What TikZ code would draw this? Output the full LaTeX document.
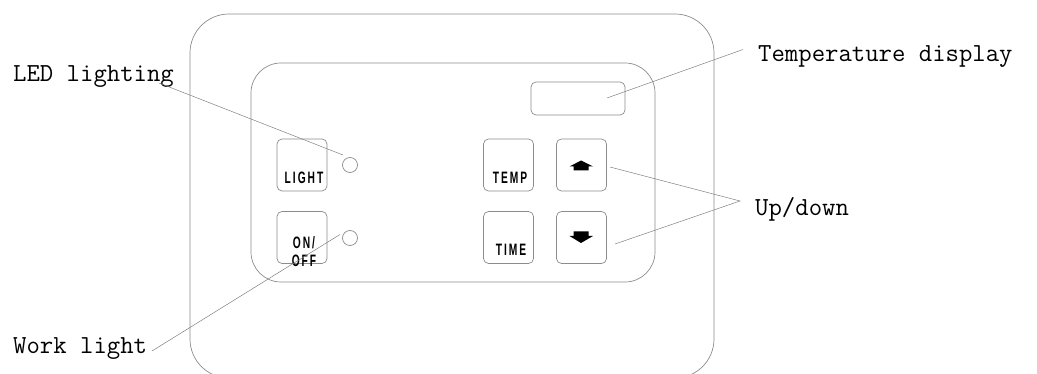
\documentclass[tikz,border=0pt]{standalone}
\usepackage{fontspec}
\newfontfamily\btnfont[FakeStretch=0.62,LetterSpace=12]{Liberation Sans Bold}
\begin{document}
\begin{tikzpicture}[x=1pt,y=-1pt,
  outline/.style={draw=black!45,line width=0.7pt},
  btn/.style={outline,rounded corners=5pt,minimum width=50pt,minimum height=52pt,inner sep=0pt},
  btntext/.style={font=\btnfont\fontsize{16.5}{17}\selectfont,anchor=base,inner sep=0pt},
  led/.style={outline,circle,minimum size=15pt,inner sep=0pt},
  lab/.style={font=\ttfamily\fontsize{26}{28}\selectfont,anchor=base west,inner sep=0pt},
  leader/.style={draw=black!50,line width=0.5pt}]
\clip (0,0) rectangle (1037,374);
% housing
\draw[outline,rounded corners=39pt] (190,14) rectangle (714,378);
\draw[outline,rounded corners=30pt] (251,63) rectangle (655,282);
\node[outline,rounded corners=5pt,minimum width=94pt,minimum height=33pt,inner sep=0pt] (disp) at (578,98.5) {};
% buttons
\node[btn] (light) at (302,165) {};
\node[btn] (onoff) at (302,237.5) {};
\node[btn] (temp) at (508.5,165) {};
\node[btn] (time) at (508.5,237.5) {};
\node[btn] (up) at (581.5,165) {};
\node[btn] (down) at (581.5,237.5) {};
\node[btntext] (tlight) at (304,184) {LIGHT};
\node[btntext] (ton) at (304,249) {ON/};
\node[btntext] (toff) at (304,267) {OFF};
\node[btntext] (ttemp) at (510,184) {TEMP};
\node[btntext] (ttime) at (511,256) {TIME};
\fill[black] (569.5,166.5) -- (581,160.5) -- (593,166.5) -- (588.5,166.5) -- (588.5,170.5) -- (573.5,170.5) -- (573.5,166.5) -- cycle;
\fill[black] (573.5,231.5) -- (588.5,231.5) -- (588.5,236) -- (593,236) -- (581,243) -- (569.5,236) -- (573.5,236) -- cycle;
% LEDs
\node[led] (led1) at (350,165) {};
\node[led] (led2) at (350,238) {};
% labels
\node[lab] (lled) at (13,82) {LED lighting};
\node[lab] (lwork) at (13,353) {Work light};
\node[lab] (ltemp) at (758,62) {Temperature display};
\node[lab] (lup) at (755,216) {Up/down};
% leader ends
\coordinate (a1) at (159,83);
\coordinate (a2) at (343,155);
\coordinate (b1) at (152,351);
\coordinate (b2) at (340,234.5);
\coordinate (c1) at (607,98);
\coordinate (c2) at (743,49.5);
\coordinate (d0) at (740,201);
\coordinate (d1) at (610,167);
\coordinate (d2) at (615,244);
\draw[leader] (a1) -- (a2);
\draw[leader] (b1) -- (b2);
\draw[leader] (c1) -- (c2);
\draw[leader] (d1) -- (d0) -- (d2);
\end{tikzpicture}
\end{document}
